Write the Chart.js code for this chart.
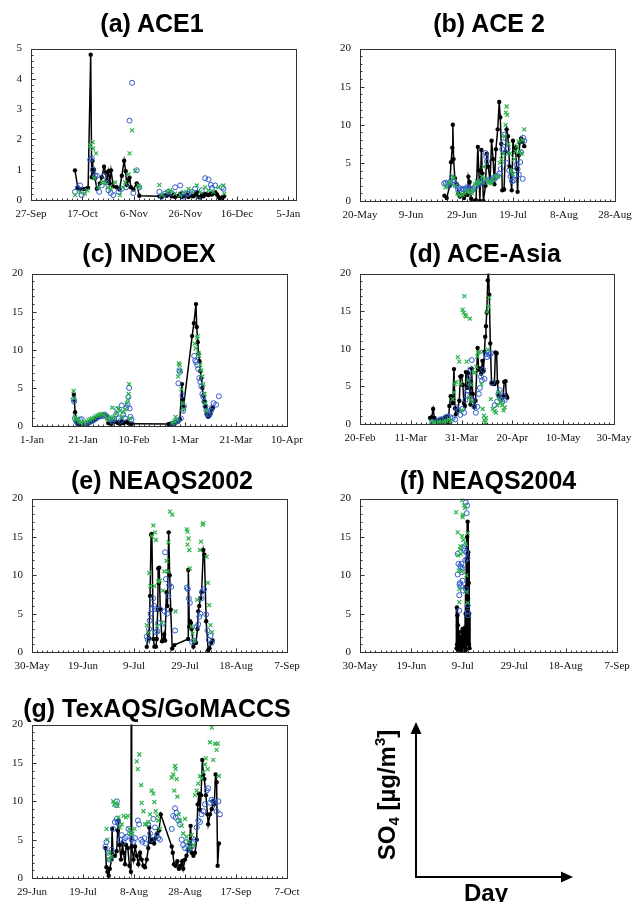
<!DOCTYPE html>
<html>
<head>
<meta charset="utf-8">
<title>SO4 time series by campaign</title>
<script src="https://cdn.jsdelivr.net/npm/chart.js@4"></script>
<style>
  html, body { margin: 0; padding: 0; background: #fff; }
  #page { position: relative; width: 632px; height: 902px; overflow: hidden; }
  canvas { position: absolute; }
  .ttl {
    position: absolute; transform: translateX(-50%); white-space: nowrap;
    font: bold 25px "Liberation Sans", Arial, sans-serif; line-height: 26px; color: #000;
  }
  .axlab { position: absolute; white-space: nowrap; font: bold 24px "Liberation Sans", Arial, sans-serif; color: #000; }
  .axlab sub { font-size: 15px; vertical-align: -4px; }
  .axlab sup { font-size: 15px; vertical-align: 10px; }
  #ylab { transform: translate(-50%, -50%) rotate(-90deg); }
  #xlab { transform: translateX(-50%); }
  svg { position: absolute; left: 0; top: 0; }
</style>
</head>
<body>
<div id="page"></div>
<script>
"use strict";

/* ---------- data: x = days from the first axis tick, y = SO4 (ug/m3) ---------- */
// (a) ACE1
const aTicks = ["27-Sep", "17-Oct", "6-Nov", "26-Nov", "16-Dec", "5-Jan"];
const aObs = [[17.1,0.98],[18.2,0.40],[19.1,0.35],[20.4,0.36],[21.4,0.37],[22.2,0.40],[23.2,4.80],[23.6,0.75],[23.9,1.30],[24.2,0.90],[24.5,1.00],[24.9,0.72],[25.6,0.37],[26.8,0.55],[27.5,0.75],[28.4,1.10],[29.0,0.90],[29.4,0.64],[30.1,0.95],[30.6,0.55],[31.1,0.98],[32.0,0.45],[33.3,0.42],[34.4,0.35],[35.3,0.80],[36.2,1.30],[36.8,0.95],[37.2,0.50],[37.9,0.65],[38.3,0.74],[38.8,0.42],[39.8,0.35],[41.1,0.55],[42.1,0.14],[49.9,0.12],[50.8,0.10],[52.1,0.16],[52.8,0.14],[53.4,0.20],[54.7,0.12],[55.4,0.18],[56.0,0.10],[57.3,0.14],[58.0,0.20],[58.6,0.10],[59.9,0.14],[60.6,0.18],[61.2,0.10],[62.5,0.14],[63.2,0.12],[63.8,0.18],[64.5,0.26],[65.1,0.10],[65.8,0.08],[66.4,0.16],[67.0,0.12],[67.7,0.20],[68.4,0.18],[69.0,0.16],[69.9,0.22],[70.3,0.18],[70.9,0.22],[71.6,0.26],[72.3,0.18],[72.9,0.10],[73.5,0.04],[74.2,0.02],[74.6,0.10],[75.1,0.13]];
const aBlue = [[17.1,0.27],[18.2,0.40],[19.1,0.48],[19.7,0.16],[20.4,0.27],[23.0,1.33],[23.6,1.38],[24.0,1.00],[24.9,0.80],[25.6,0.80],[26.5,0.27],[27.5,0.48],[28.4,0.80],[29.2,0.58],[30.1,0.32],[31.0,0.23],[32.0,0.16],[34.0,0.27],[35.3,0.37],[37.0,0.42],[38.3,2.62],[39.3,3.87],[39.8,0.23],[41.1,0.98],[42.1,0.42],[49.9,0.27],[50.8,0.11],[52.1,0.21],[53.4,0.27],[54.7,0.23],[56.0,0.42],[58.0,0.48],[58.6,0.21],[59.3,0.11],[60.6,0.21],[61.2,0.21],[62.5,0.27],[63.8,0.37],[65.1,0.00],[66.4,0.32],[67.7,0.72],[69.0,0.68],[69.9,0.50],[70.3,0.40],[71.6,0.48],[74.2,0.42],[74.8,0.37]];
const aGreen = [[17.1,0.16],[19.1,0.27],[21.0,0.21],[21.9,0.32],[23.0,1.80],[24.0,1.91],[24.1,1.70],[24.6,0.72],[25.3,1.54],[26.2,0.42],[27.5,0.58],[28.8,0.58],[29.7,0.42],[31.0,0.37],[32.7,0.58],[34.6,0.16],[35.7,0.42],[36.6,0.58],[37.9,0.85],[38.3,1.54],[39.3,2.30],[40.5,0.96],[41.8,0.48],[42.1,0.42],[49.9,0.50],[50.8,0.16],[52.8,0.27],[54.1,0.32],[56.0,0.21],[58.0,0.16],[59.3,0.27],[61.2,0.37],[62.5,0.27],[64.5,0.48],[65.8,0.27],[67.7,0.42],[69.0,0.32],[70.9,0.27],[72.9,0.42],[74.8,0.48],[75.1,0.21]];

// (b) ACE 2
const bTicks = ["20-May", "9-Jun", "29-Jun", "19-Jul", "8-Aug", "28-Aug"];
const bObs = [[33.1,0.7],[34.0,0.4],[35.2,2.0],[35.7,5.1],[36.2,7.0],[36.4,10.0],[36.7,5.5],[37.2,3.0],[38.0,2.2],[38.5,1.0],[39.2,0.6],[40.0,0.8],[40.8,0.4],[41.5,1.0],[42.2,0.8],[42.5,3.2],[43.0,2.5],[43.6,0.3],[44.2,0.0],[44.8,0.0],[45.5,0.1],[46.2,7.1],[46.6,4.0],[47.0,0.0],[47.6,6.7],[48.0,3.6],[48.4,0.0],[49.2,2.0],[49.7,6.2],[50.3,4.5],[51.0,2.6],[51.6,7.9],[52.2,5.5],[52.7,2.2],[53.3,6.8],[54.0,9.4],[54.6,13.0],[55.0,11.0],[55.4,7.5],[55.8,1.4],[56.5,1.5],[57.0,6.5],[57.5,9.4],[58.0,8.5],[58.7,4.5],[59.5,1.4],[60.0,7.9],[60.5,6.5],[61.0,7.0],[61.4,4.3],[61.8,1.2],[62.3,6.0],[62.7,7.7],[63.2,8.2],[63.8,7.8],[64.4,7.2]];
const bBlue = [[33.0,2.3],[33.6,2.4],[34.2,2.2],[34.8,2.0],[35.4,2.5],[36.0,3.0],[36.6,2.7],[37.2,2.2],[37.8,2.1],[38.4,1.6],[39.0,1.7],[39.6,1.5],[40.2,1.6],[40.8,1.5],[41.4,1.6],[42.0,1.8],[42.6,1.7],[43.2,1.6],[43.8,1.3],[44.4,1.5],[45.0,1.8],[45.6,2.0],[46.2,2.4],[46.8,2.2],[47.4,2.6],[48.0,2.4],[48.6,2.8],[49.2,6.3],[49.5,5.8],[49.8,5.2],[50.4,2.7],[51.0,2.8],[51.6,2.6],[52.2,3.0],[52.8,2.9],[53.4,3.2],[54.0,3.3],[54.6,3.6],[55.2,4.2],[55.8,6.8],[56.2,7.7],[56.6,8.7],[57.0,6.3],[57.4,5.0],[57.9,6.9],[58.5,4.0],[59.0,3.2],[59.6,2.6],[60.2,2.7],[60.8,3.4],[61.4,4.8],[61.8,4.2],[62.3,3.5],[62.8,5.1],[63.2,6.4],[63.8,2.9],[64.0,8.3],[64.4,7.9]];
const bGreen = [[33.5,1.8],[34.5,2.2],[35.5,2.5],[36.2,3.3],[36.8,3.0],[37.5,2.0],[38.2,1.0],[38.8,0.8],[39.5,0.7],[40.2,0.8],[41.0,1.0],[41.8,1.2],[42.5,1.4],[43.2,1.2],[43.9,1.0],[44.6,1.5],[45.2,2.2],[45.8,2.6],[46.5,2.3],[47.2,2.5],[47.8,3.2],[48.5,4.5],[49.2,2.9],[50.0,2.4],[50.8,2.6],[51.5,2.3],[52.2,2.8],[53.0,3.3],[54.0,3.2],[54.8,5.0],[55.5,5.5],[56.2,6.2],[56.8,8.5],[57.1,10.0],[57.2,11.6],[57.5,12.4],[57.7,11.3],[58.2,7.5],[58.8,6.2],[59.5,4.0],[60.0,3.5],[60.5,5.5],[61.0,6.5],[61.6,7.2],[62.2,7.8],[62.8,6.5],[63.3,6.2],[63.8,8.0],[64.4,9.4]];

// (c) INDOEX
const cTicks = ["1-Jan", "21-Jan", "10-Feb", "1-Mar", "21-Mar", "10-Apr"];
const cObs = [[16.4,4.1],[16.6,3.4],[16.9,1.8],[17.3,0.6],[17.8,0.3],[18.2,0.1],[18.8,0.05],[19.4,0.0],[20.0,0.1],[20.8,0.1],[21.5,0.3],[22.1,0.4],[22.8,0.5],[23.4,0.6],[24.0,0.8],[24.7,0.9],[25.3,1.0],[26.0,1.2],[26.6,1.3],[27.3,1.4],[27.9,1.5],[28.6,1.4],[29.2,1.2],[29.9,0.4],[30.5,0.5],[31.2,0.3],[31.9,0.5],[32.5,0.6],[33.2,0.5],[33.8,0.4],[34.5,0.3],[35.1,0.6],[35.8,0.4],[36.4,0.5],[37.1,0.6],[37.7,0.4],[38.4,0.3],[39.1,0.3],[53.5,0.25],[54.2,0.3],[55.0,0.3],[55.8,0.4],[56.6,0.5],[57.4,0.6],[58.0,0.9],[58.8,5.5],[59.1,3.5],[59.4,2.5],[62.8,11.8],[63.5,13.5],[64.3,16.0],[64.6,13.0],[65.0,11.0],[65.3,9.5],[65.7,8.5],[66.0,7.2],[66.4,6.3],[66.8,5.0],[67.2,4.0],[67.6,3.2],[68.0,2.5],[68.5,1.5],[69.0,1.2],[69.5,1.3],[70.0,1.6],[70.5,2.2],[71.0,2.4]];
const cBlue = [[16.3,3.5],[16.5,3.2],[16.8,1.0],[17.4,0.6],[18.0,0.4],[18.8,0.8],[19.5,0.9],[20.2,0.3],[21.0,0.2],[21.8,0.3],[22.5,0.5],[23.2,0.6],[24.0,0.7],[24.8,0.9],[25.5,1.1],[26.2,1.2],[27.0,1.3],[27.8,1.3],[28.5,1.5],[29.2,1.3],[30.0,1.0],[30.8,0.8],[31.5,0.6],[32.2,0.9],[33.0,1.5],[33.4,2.2],[34.0,1.0],[34.8,0.7],[35.2,2.7],[35.8,1.5],[36.5,1.0],[37.0,2.4],[37.5,2.8],[37.8,3.8],[38.1,5.0],[38.3,2.3],[38.6,1.2],[39.0,0.8],[55.2,0.3],[56.0,0.4],[56.6,0.6],[57.2,0.7],[57.4,5.6],[57.8,7.3],[58.0,7.1],[58.4,1.0],[59.0,4.0],[59.3,2.0],[59.6,2.6],[63.6,9.2],[64.0,8.6],[64.4,8.4],[64.8,8.0],[65.2,7.5],[65.6,6.3],[66.0,5.8],[66.4,5.2],[66.8,4.2],[67.2,3.8],[67.6,3.2],[68.0,2.6],[68.4,2.0],[68.8,1.6],[69.2,1.3],[69.6,1.5],[70.2,2.0],[70.6,2.4],[71.2,3.0],[72.2,2.8],[73.3,3.9]];
const cGreen = [[16.3,4.6],[16.6,3.6],[16.9,1.2],[17.3,0.8],[17.8,1.0],[18.5,0.6],[19.2,0.5],[20.0,0.3],[20.7,0.4],[21.5,0.6],[22.2,0.8],[22.9,0.9],[23.6,1.0],[24.3,1.1],[25.0,1.3],[25.8,1.4],[26.5,1.5],[27.2,1.6],[28.0,1.5],[28.7,1.3],[29.4,1.0],[30.2,0.8],[30.8,1.2],[31.5,2.4],[32.2,1.0],[33.0,1.6],[33.8,2.3],[34.5,2.0],[35.2,1.2],[35.8,1.8],[36.5,2.2],[37.2,3.0],[37.6,3.5],[37.9,4.2],[38.1,5.5],[38.4,1.0],[55.0,0.4],[55.8,0.6],[56.3,1.2],[56.8,0.8],[57.3,6.5],[57.6,8.2],[57.9,8.0],[58.2,7.2],[58.6,4.8],[59.0,3.0],[59.5,2.2],[63.8,10.8],[64.2,10.2],[64.7,11.6],[65.0,11.8],[65.3,9.6],[65.6,9.2],[66.0,8.0],[66.4,7.3],[66.8,6.5],[67.2,5.5],[67.6,4.2],[68.0,3.0],[68.5,2.0]];

// (d) ACE-Asia
const dTicks = ["20-Feb", "11-Mar", "31-Mar", "20-Apr", "10-May", "30-May"];
const dObs = [[27.6,0.8],[28.2,0.9],[28.8,2.0],[29.3,0.8],[30.0,0.4],[30.8,0.2],[31.5,0.5],[32.2,0.7],[32.8,0.3],[33.5,0.9],[34.0,1.0],[34.4,0.4],[34.8,0.1],[35.2,2.4],[35.7,3.7],[36.2,3.5],[36.5,2.8],[37.0,7.3],[37.4,2.1],[37.8,1.3],[38.4,1.8],[39.1,3.1],[39.5,6.3],[40.0,6.4],[40.5,5.2],[40.9,2.8],[41.3,2.4],[41.7,6.9],[42.2,4.8],[42.6,6.8],[43.0,5.8],[43.5,2.6],[43.9,7.4],[44.4,4.0],[45.0,2.3],[45.5,3.1],[46.3,10.1],[46.7,7.2],[47.2,7.4],[47.7,6.7],[48.2,8.4],[48.6,7.0],[49.0,9.6],[49.3,11.6],[49.6,13.0],[49.9,14.8],[50.3,19.1],[50.5,21.0],[50.9,17.2],[51.3,10.7],[51.8,5.4],[52.4,5.4],[52.9,5.3],[53.3,9.5],[53.8,9.4],[54.1,5.6],[54.5,3.8],[55.0,3.5],[55.6,3.4],[56.3,3.6],[56.8,5.6],[57.3,5.7],[57.6,3.8],[58.0,3.5]];
const dBlue = [[28.5,0.3],[29.5,0.2],[30.5,0.4],[31.5,0.6],[32.5,0.5],[33.5,0.8],[34.5,1.0],[35.5,0.9],[36.5,0.8],[37.5,0.6],[38.0,2.2],[38.8,1.8],[39.5,1.2],[40.2,2.0],[41.0,1.5],[41.5,3.2],[42.0,3.8],[42.4,4.5],[42.8,5.5],[43.2,6.2],[43.6,7.2],[44.0,8.5],[44.5,3.2],[45.0,2.3],[45.6,1.5],[46.2,2.3],[46.8,4.0],[47.2,4.8],[47.6,6.3],[48.0,5.8],[48.5,7.2],[49.0,6.0],[49.5,9.3],[50.0,8.9],[50.5,9.5],[51.0,9.2],[51.5,9.4],[52.0,5.5],[53.0,2.5],[54.0,3.0],[54.5,4.0],[55.0,4.5],[55.5,3.3],[56.0,3.0],[56.5,3.8],[57.0,3.2]];
const dGreen = [[28.0,0.3],[29.0,0.2],[30.0,0.1],[31.0,0.3],[32.0,0.2],[33.0,0.3],[34.0,0.4],[35.0,0.6],[35.8,0.4],[36.5,3.3],[37.0,4.2],[37.4,5.3],[37.8,5.6],[38.5,8.9],[39.1,8.3],[39.6,5.4],[40.0,1.8],[40.4,15.2],[40.8,14.8],[41.1,17.0],[41.4,14.5],[41.7,14.3],[42.0,8.3],[42.5,5.8],[43.0,3.5],[43.3,14.0],[43.8,5.2],[44.2,3.0],[44.8,6.8],[45.3,6.9],[45.8,7.6],[46.2,9.0],[46.6,9.5],[47.2,9.6],[47.8,5.3],[48.3,2.0],[48.8,1.1],[49.0,0.5],[49.3,0.2],[49.6,0.8],[50.0,14.9],[50.3,9.9],[50.6,15.6],[50.9,16.8],[51.5,3.3],[52.3,2.0],[53.0,1.7],[53.5,1.5],[54.0,2.5],[54.5,4.2],[55.0,3.3],[55.5,2.8],[56.0,2.5],[56.5,1.8],[57.0,2.2]];

// (e) NEAQS2002
const eTicks = ["30-May", "19-Jun", "9-Jul", "29-Jul", "18-Aug", "7-Sep"];
const eObs = [[45.0,0.67],[45.6,2.35],[45.9,1.8],[46.3,7.3],[46.7,15.3],[47.0,15.4],[47.6,1.7],[48.0,0.7],[48.6,0.7],[48.9,1.7],[49.3,5.5],[49.5,10.9],[49.7,9.0],[49.9,11.0],[50.3,5.5],[51.0,1.4],[51.5,1.6],[51.8,2.3],[52.2,1.5],[52.7,7.8],[53.1,6.0],[53.6,15.6],[54.0,10.0],[54.4,5.5],[55.0,0.45],[55.8,0.9],[61.2,1.7],[61.3,10.7],[61.7,3.3],[62.0,4.0],[62.3,3.8],[62.6,3.0],[63.3,0.7],[63.7,1.2],[64.3,1.2],[64.9,3.0],[65.2,5.3],[65.6,6.0],[66.0,7.0],[66.5,7.8],[67.2,13.3],[67.6,12.7],[68.3,4.0],[69.1,0.25],[69.6,0.5],[70.2,1.2],[70.8,1.5]];
const eBlue = [[45.0,2.0],[45.4,1.6],[45.9,3.0],[46.2,4.1],[46.5,5.0],[46.9,5.6],[47.5,7.0],[47.9,6.0],[48.3,5.6],[48.6,2.6],[49.2,2.7],[49.5,3.8],[50.2,5.6],[51.3,3.7],[52.0,5.3],[52.2,13.0],[52.5,9.5],[53.0,5.0],[53.5,7.3],[53.8,8.7],[54.6,8.5],[56.1,2.8],[60.7,8.4],[61.1,8.2],[61.5,7.0],[61.9,6.4],[62.8,1.3],[63.5,1.5],[64.6,3.3],[65.2,3.6],[65.6,4.6],[66.0,5.0],[66.5,7.0],[66.8,7.9],[67.5,8.2],[68.3,4.9],[68.8,2.8],[69.3,1.6],[70.0,2.1],[70.5,1.2]];
const eGreen = [[45.0,3.5],[45.6,2.5],[46.0,10.3],[46.4,8.6],[47.0,15.1],[47.6,16.5],[48.0,8.6],[48.3,15.6],[48.6,14.6],[49.0,3.4],[49.5,9.2],[50.2,9.3],[50.9,3.8],[51.3,8.0],[51.9,10.5],[52.8,11.9],[53.2,10.5],[53.5,14.3],[54.1,18.3],[55.0,17.9],[56.3,5.3],[60.7,16.0],[61.0,15.7],[61.0,14.0],[61.4,14.8],[61.7,13.3],[61.9,10.9],[62.6,3.3],[63.0,2.4],[63.6,1.5],[64.8,6.8],[65.9,13.3],[66.3,14.4],[66.9,16.6],[67.2,16.8],[68.5,12.4],[69.0,9.0],[69.5,6.1],[70.0,3.5],[70.6,2.6]];

// (f) NEAQS2004
const fTicks = ["30-May", "19-Jun", "9-Jul", "29-Jul", "18-Aug", "7-Sep"];
const fObs = [[37.6,0.5],[37.7,5.8],[37.8,1.0],[37.9,4.8],[38.0,0.3],[38.1,3.5],[38.2,0.8],[38.3,2.6],[38.4,0.2],[38.5,2.0],[38.6,0.5],[38.7,1.6],[38.8,0.1],[38.9,1.3],[39.0,0.4],[39.1,1.2],[39.2,0.0],[39.3,1.5],[39.4,0.3],[39.5,2.0],[39.6,0.6],[39.7,2.6],[39.8,0.2],[39.9,3.0],[40.0,0.8],[40.1,2.8],[40.2,0.3],[40.3,2.2],[40.4,0.5],[40.5,1.8],[40.6,0.4],[40.7,2.5],[40.8,0.2],[40.9,3.2],[41.0,0.6],[41.1,5.0],[41.2,0.3],[41.3,8.5],[41.4,1.0],[41.5,12.0],[41.6,2.0],[41.7,15.0],[41.8,4.0],[41.9,17.0],[42.0,7.0],[42.1,13.0],[42.2,3.0],[42.3,9.0],[42.4,1.0],[42.5,5.0],[42.6,0.5]];
const fBlue = [[38.0,12.8],[38.0,10.1],[38.3,11.5],[38.6,5.4],[38.6,7.4],[38.7,8.8],[38.9,9.0],[39.0,11.2],[39.3,8.6],[39.3,11.0],[39.5,11.5],[39.6,10.4],[39.9,9.3],[39.9,10.9],[40.0,8.0],[40.3,13.5],[40.6,13.2],[40.8,13.8],[41.0,12.0],[41.2,8.2],[41.2,19.5],[41.4,13.0],[41.5,18.1],[41.7,19.1],[41.9,5.2],[41.9,6.1],[41.8,12.2],[42.0,4.8]];
const fGreen = [[37.4,18.2],[38.0,15.6],[38.2,12.6],[38.4,10.6],[38.6,6.5],[38.7,8.2],[38.9,13.4],[39.1,13.8],[39.3,12.8],[39.5,10.5],[39.7,15.1],[39.7,19.8],[39.9,17.6],[40.0,17.9],[40.2,14.6],[40.6,19.1],[40.9,18.8],[41.2,14.1],[41.4,10.0],[41.6,7.8],[41.8,6.4],[41.9,15.5]];

// (g) TexAQS/GoMACCS
const gTicks = ["29-Jun", "19-Jul", "8-Aug", "28-Aug", "17-Sep", "7-Oct"];
const gObs = [[28.8,3.9],[29.2,1.4],[29.6,0.8],[30.1,0.3],[30.5,1.2],[31.2,2.4],[31.4,6.4],[31.8,2.9],[32.5,2.9],[33.2,3.5],[33.6,6.2],[33.9,7.5],[34.3,4.3],[34.9,2.4],[35.5,4.5],[35.9,3.3],[36.5,1.8],[36.9,4.3],[37.6,3.9],[38.2,1.6],[38.8,0.8],[38.9,21.0],[39.1,4.1],[39.8,2.4],[40.4,4.1],[41.1,2.9],[41.7,1.8],[42.4,3.3],[43.0,2.4],[43.7,1.6],[44.3,1.4],[45.0,2.4],[45.6,3.9],[46.0,6.6],[46.6,4.7],[47.2,5.0],[47.9,4.5],[48.5,5.2],[49.1,5.8],[49.8,6.2],[50.5,8.3],[54.8,4.1],[55.2,3.3],[55.7,1.8],[56.3,1.6],[57.0,2.2],[57.6,1.2],[58.3,1.6],[58.9,2.2],[59.3,1.2],[60.0,2.4],[60.6,2.9],[61.3,3.7],[61.7,4.5],[62.2,6.8],[62.6,3.3],[63.3,2.9],[63.9,3.3],[64.6,5.0],[65.0,9.6],[65.5,11.0],[65.9,8.9],[66.3,10.8],[66.8,15.4],[67.2,13.5],[67.6,12.9],[68.2,10.8],[68.8,8.3],[69.1,7.0],[69.8,8.3],[70.5,9.0],[71.1,10.0],[71.5,9.6],[72.0,13.5],[72.4,12.5],[72.8,1.6],[73.3,4.5]];
const gBlue = [[28.8,4.1],[29.2,4.7],[29.9,3.3],[30.5,2.4],[31.2,3.7],[31.8,6.4],[32.5,7.3],[33.0,9.5],[33.2,7.7],[33.3,10.0],[33.6,7.3],[34.1,7.0],[34.5,5.0],[35.2,5.6],[35.9,4.7],[36.5,5.2],[37.2,5.4],[37.8,6.4],[38.5,5.8],[39.1,5.0],[39.8,4.7],[40.4,5.2],[41.5,7.5],[42.0,7.0],[42.8,5.0],[43.3,4.7],[44.1,5.2],[44.6,4.5],[45.6,7.0],[46.3,5.8],[46.9,5.0],[47.6,7.7],[48.2,6.6],[48.9,5.6],[49.5,5.2],[50.2,5.0],[54.8,6.4],[55.4,8.1],[56.1,9.1],[56.3,7.9],[56.7,8.5],[57.4,7.5],[58.0,7.0],[58.7,5.0],[59.3,4.3],[60.0,3.9],[60.6,4.7],[61.3,3.7],[62.0,3.9],[62.6,4.1],[63.3,4.7],[63.9,5.0],[64.6,6.6],[65.2,7.5],[65.9,7.3],[66.5,8.3],[67.2,8.7],[67.8,9.6],[68.5,11.4],[69.1,11.7],[69.8,9.8],[70.5,10.2],[71.1,10.0],[71.8,9.8],[72.4,8.7],[73.1,10.0],[73.7,8.3]];
const gGreen = [[29.2,6.4],[29.6,5.0],[30.1,3.3],[30.5,2.4],[31.2,2.9],[31.8,10.0],[32.2,9.6],[32.8,9.8],[33.6,9.4],[33.9,7.9],[34.5,6.6],[35.2,7.0],[35.9,8.1],[36.8,7.9],[37.6,8.1],[38.1,6.4],[38.5,5.8],[39.4,5.8],[40.2,6.4],[41.1,15.2],[41.5,14.2],[42.1,16.1],[42.8,12.1],[43.0,9.8],[43.7,8.7],[44.3,7.0],[45.0,7.0],[45.6,7.3],[46.3,8.3],[46.9,11.4],[47.6,11.0],[48.0,9.9],[48.5,8.7],[49.1,8.1],[49.5,7.5],[50.2,6.4],[54.8,13.1],[55.4,13.5],[55.8,11.4],[56.1,14.6],[56.3,14.2],[56.7,12.9],[57.0,10.6],[57.6,8.3],[58.0,7.5],[58.7,6.8],[59.3,5.8],[60.0,7.7],[60.6,5.4],[61.3,4.7],[62.0,3.9],[62.6,5.6],[63.3,4.3],[63.9,10.8],[64.6,11.4],[65.2,12.3],[65.9,13.3],[66.5,12.9],[67.2,13.8],[67.8,14.8],[68.2,15.6],[68.9,14.2],[69.8,17.7],[70.5,19.6],[71.1,15.4],[71.8,17.5],[72.4,16.7],[72.8,17.5],[73.3,13.3]];

const tickDays = [0, 20, 40, 60, 80, 100];

/* ---------- layout ---------- */
// right padding must cover half the last tick label plus the tick padding
const PAD_L = 34, PAD_T = 10, PAD_R = 28, PAD_B = 24;
const panels = [
  { title: "(a) ACE1", tx: 152, ty: 10, box: [31, 43, 296, 200], xMax: 103, yMax: 5, yStep: 1, yMinor: 0.2, lw: 1.5, ticks: aTicks, obs: aObs, blue: aBlue, green: aGreen },
  { title: "(b) ACE 2", tx: 489, ty: 10, box: [360, 43, 615, 201], xMax: 100, yMax: 20, yStep: 5, yMinor: 1, lw: 1.5, ticks: bTicks, obs: bObs, blue: bBlue, green: bGreen },
  { title: "(c) INDOEX", tx: 149, ty: 240, box: [32, 268, 287, 426], xMax: 100, yMax: 20, yStep: 5, yMinor: 1, lw: 1.5, ticks: cTicks, obs: cObs, blue: cBlue, green: cGreen },
  { title: "(d) ACE-Asia", tx: 485, ty: 240, box: [360, 268, 614, 424], xMax: 100, yMax: 20, yStep: 5, yMinor: 1, lw: 1.5, ticks: dTicks, obs: dObs, blue: dBlue, green: dGreen },
  { title: "(e) NEAQS2002", tx: 162, ty: 467, box: [32, 493, 287, 652], xMax: 100, yMax: 20, yStep: 5, yMinor: 1, lw: 1.5, ticks: eTicks, obs: eObs, blue: eBlue, green: eGreen },
  { title: "(f) NEAQS2004", tx: 488, ty: 467, box: [360, 493, 617, 652], xMax: 100, yMax: 20, yStep: 5, yMinor: 1, lw: 2.6, ticks: fTicks, obs: fObs, blue: fBlue, green: fGreen },
  { title: "(g) TexAQS/GoMACCS", tx: 157, ty: 695, box: [32, 719, 287, 878], xMax: 100, yMax: 20, yStep: 5, yMinor: 1, lw: 1.5, ticks: gTicks, obs: gObs, blue: gBlue, green: gGreen },
];

const TICK_FONT = { family: "'Liberation Serif', 'Times New Roman', serif", size: 11 };
const BLUE = "#2f5bc8";
const GREEN = "#2cb24a";

/* ---------- frame + inward ticks ---------- */
const framePlugin = {
  id: "frame",
  afterDatasetsDraw(chart, args, opts) {
    const { ctx, chartArea: a, scales } = chart;
    const x = scales.x, y = scales.y;
    ctx.save();
    ctx.strokeStyle = "#333";
    ctx.lineWidth = 1;
    ctx.strokeRect(Math.round(a.left) + 0.5, Math.round(a.top) + 0.5,
      Math.round(a.right - a.left), Math.round(a.bottom - a.top));
    ctx.beginPath();
    const yb = Math.round(a.bottom) + 0.5;
    for (let v = x.min; v <= x.max + 1e-6; v += 2) {
      const px = Math.round(x.getPixelForValue(v)) + 0.5;
      const len = v % 20 === 0 ? 4 : 2;
      ctx.moveTo(px, yb); ctx.lineTo(px, yb - len);
    }
    const xl = Math.round(a.left) + 0.5;
    const n = Math.round(y.max / opts.minor);
    for (let i = 0; i <= n; i++) {
      const v = i * opts.minor;
      const py = Math.round(y.getPixelForValue(v)) + 0.5;
      const major = Math.abs(v / opts.step - Math.round(v / opts.step)) < 1e-6;
      ctx.moveTo(xl, py); ctx.lineTo(xl + (major ? 4 : 2), py);
    }
    ctx.stroke();
    ctx.restore();
  },
};

/* ---------- build ---------- */
const page = document.getElementById("page");

function addTitle(p) {
  const d = document.createElement("div");
  d.className = "ttl";
  d.textContent = p.title;
  d.style.left = p.tx + "px";
  d.style.top = p.ty + "px";
  page.appendChild(d);
}

function makePanel(p) {
  const [l, t, r, b] = p.box;
  const cv = document.createElement("canvas");
  const w = r - l + PAD_L + PAD_R, h = b - t + PAD_T + PAD_B;
  cv.width = w; cv.height = h;
  cv.style.left = (l - PAD_L) + "px";
  cv.style.top = (t - PAD_T) + "px";
  cv.style.width = w + "px"; cv.style.height = h + "px";
  page.appendChild(cv);

  new Chart(cv, {
    type: "scatter",
    data: {
      datasets: [
        { data: p.green, pointStyle: "crossRot", pointRadius: 2.8, borderColor: GREEN,
          backgroundColor: GREEN, borderWidth: 1.2, showLine: false },
        { data: p.blue, pointStyle: "circle", pointRadius: 2.5, borderColor: BLUE,
          backgroundColor: "rgba(0,0,0,0)", borderWidth: 1, showLine: false },
        { data: p.obs, showLine: true, borderColor: "#000", borderWidth: p.lw, tension: 0,
          pointRadius: 2.2, pointBackgroundColor: "#000", pointBorderColor: "#000", pointBorderWidth: 0 },
      ],
    },
    options: {
      responsive: false,
      animation: false,
      events: [],
      devicePixelRatio: 1,
      layout: { padding: { top: PAD_T, right: PAD_R, left: 0, bottom: 0 } },
      plugins: {
        legend: { display: false },
        tooltip: { enabled: false },
        frame: { step: p.yStep, minor: p.yMinor },
      },
      scales: {
        x: {
          type: "linear", min: 0, max: p.xMax,
          grid: { display: false, drawTicks: false }, border: { display: false },
          afterBuildTicks: (s) => { s.ticks = tickDays.map((v) => ({ value: v })); },
          afterFit: (s) => { s.height = PAD_B; },
          ticks: {
            autoSkip: false, maxRotation: 0, padding: 8, color: "#111", font: TICK_FONT,
            callback: (v, i) => p.ticks[i],
          },
        },
        y: {
          min: 0, max: p.yMax,
          grid: { display: false, drawTicks: false }, border: { display: false },
          afterFit: (s) => { s.width = PAD_L; },
          ticks: { stepSize: p.yStep, padding: 9, color: "#111", font: TICK_FONT },
        },
      },
    },
    plugins: [framePlugin],
  });
}

panels.forEach((p) => { makePanel(p); addTitle(p); });

/* ---------- axis sketch (bottom right) ---------- */
const svgNS = "http://www.w3.org/2000/svg";
const svg = document.createElementNS(svgNS, "svg");
svg.setAttribute("width", "632");
svg.setAttribute("height", "902");
svg.innerHTML =
  '<line x1="416" y1="877" x2="416" y2="733" stroke="#000" stroke-width="2"/>' +
  '<polygon points="416,722 410.5,734 421.5,734" fill="#000"/>' +
  '<line x1="415" y1="877" x2="562" y2="877" stroke="#000" stroke-width="2"/>' +
  '<polygon points="573,877 561,871.5 561,882.5" fill="#000"/>';
page.appendChild(svg);

const ylab = document.createElement("div");
ylab.id = "ylab"; ylab.className = "axlab";
ylab.innerHTML = "SO<sub>4</sub> [\u00b5g/m<sup>3</sup>]";
ylab.style.left = "386px"; ylab.style.top = "795px";
page.appendChild(ylab);

const xlab = document.createElement("div");
xlab.id = "xlab"; xlab.className = "axlab";
xlab.textContent = "Day";
xlab.style.left = "486px"; xlab.style.top = "879px";
page.appendChild(xlab);
</script>
</body>
</html>
